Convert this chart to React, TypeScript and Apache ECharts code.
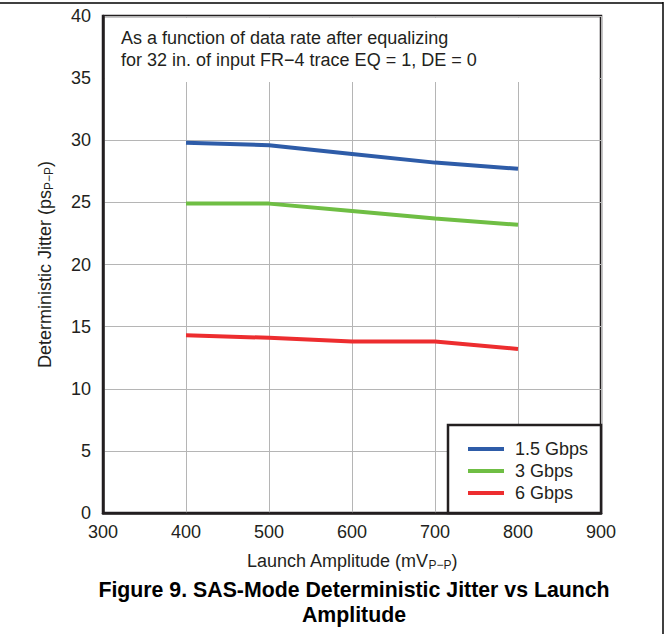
import React, { useEffect, useRef } from "react";
import * as echarts from "echarts";

const amplitudes = [400, 500, 600, 700, 800];
const jitter15 = [29.8, 29.6, 28.9, 28.2, 27.7];
const jitter3 = [24.9, 24.9, 24.3, 23.7, 23.2];
const jitter6 = [14.3, 14.1, 13.8, 13.8, 13.2];
const seriesNames = ["1.5 Gbps", "3 Gbps", "6 Gbps"];
const seriesColors = ["#2e5ca8", "#6fbe44", "#ed2d2f"];
const noteLines = [
  "As a function of data rate after equalizing",
  "for 32 in. of input FR\u22124 trace EQ = 1, DE = 0",
];
const titleLines = ["Figure 9. SAS-Mode Deterministic Jitter vs Launch", "Amplitude"];

const FONT = "'Liberation Sans', Arial, Helvetica, sans-serif";
const DARK = "#231f20";
const FS = 18;

export default function App() {
  const ref = useRef<HTMLDivElement>(null);
  useEffect(() => {
    if (!ref.current) return;
    const chart = echarts.init(ref.current, null, { renderer: "svg" });
    const allSeries = [jitter15, jitter3, jitter6];
    const gl = 103, gt = 16, gw = 498, gh = 497;
    const nameRich = {
      a: { fontSize: FS, color: DARK, fontFamily: FONT, lineHeight: 20 },
      s: { fontSize: 12, color: DARK, fontFamily: FONT, lineHeight: 13, verticalAlign: "bottom" },
    };
    chart.setOption({
      animation: false,
      backgroundColor: "#ffffff",
      textStyle: { fontFamily: FONT },
      grid: {
        left: gl, top: gt, width: gw, height: gh,
        show: true, borderColor: DARK, borderWidth: 2.5, backgroundColor: "transparent",
      },
      xAxis: {
        type: "value", min: 300, max: 900, interval: 100,
        axisLine: { show: true, lineStyle: { color: DARK, width: 2.5 } },
        axisTick: { show: false },
        axisLabel: { fontSize: FS, color: DARK, margin: 10, fontFamily: FONT },
        splitLine: { show: true, lineStyle: { color: "#b5b5b5", width: 1 } },
        name: "{a|Launch Amplitude (mV}{s|P\u2212P}{a|)}",
        nameLocation: "middle",
        nameGap: 38,
        nameTextStyle: { rich: nameRich },
      },
      yAxis: {
        type: "value", min: 0, max: 40, interval: 5,
        axisLine: { show: true, lineStyle: { color: DARK, width: 2.5 } },
        axisTick: { show: false },
        axisLabel: { fontSize: FS, color: DARK, margin: 12, fontFamily: FONT },
        splitLine: { show: true, lineStyle: { color: "#b5b5b5", width: 1 } },
        name: "{a|Deterministic Jitter (ps}{s|P\u2212P}{a|)}",
        nameLocation: "middle",
        nameGap: 48,
        nameTextStyle: { rich: nameRich },
      },
      legend: {
        orient: "vertical",
        left: 463,
        top: 433,
        icon: "rect",
        itemWidth: 36,
        itemHeight: 4,
        itemGap: 0,
        z: 10,
        data: seriesNames,
        textStyle: { fontSize: FS, color: DARK, fontFamily: FONT, lineHeight: 22, padding: [0, 0, 0, 6] },
      },
      series: allSeries.map((vals, i) => ({
        name: seriesNames[i],
        type: "line",
        data: amplitudes.map((x, j) => [x, vals[j]]),
        showSymbol: false,
        symbol: "none",
        lineStyle: { color: seriesColors[i], width: 4 },
        itemStyle: { color: seriesColors[i] },
        z: 3,
      })),
      graphic: [
        { type: "line", shape: { x1: 0, y1: 3, x2: 663, y2: 3 }, style: { stroke: "#000", lineWidth: 1.5 }, z: 20 },
        { type: "line", shape: { x1: 663, y1: 2, x2: 663, y2: 634 }, style: { stroke: "#000", lineWidth: 1.5 }, z: 20 },
        { type: "rect", shape: { x: gl + 2, y: gt + 2, width: gw - 4, height: 64 }, style: { fill: "#ffffff" }, z: 1 },
        {
          type: "text", x: 121, y: 38, z: 2,
          style: { text: noteLines[0], fontSize: FS, fill: DARK, fontFamily: FONT, verticalAlign: "middle" },
        },
        {
          type: "text", x: 121, y: 60, z: 2,
          style: { text: noteLines[1], fontSize: FS, fill: DARK, fontFamily: FONT, verticalAlign: "middle" },
        },
        {
          type: "rect", shape: { x: 448, y: 425, width: 153, height: 88 },
          style: { fill: "#ffffff", stroke: DARK, lineWidth: 2.5 }, z: 5,
        },
        {
          type: "text", x: 354, y: 590, z: 2,
          style: { text: titleLines[0], fontSize: 21.3, fontWeight: "bold", fill: "#000", fontFamily: FONT, align: "center", verticalAlign: "middle" },
        },
        {
          type: "text", x: 354, y: 615, z: 2,
          style: { text: titleLines[1], fontSize: 21.3, fontWeight: "bold", fill: "#000", fontFamily: FONT, align: "center", verticalAlign: "middle" },
        },
      ],
    });
    return () => chart.dispose();
  }, []);
  return (
    <div
      ref={ref}
      style={{ position: "absolute", left: 0, top: 0, width: 669, height: 634 }}
    />
  );
}
